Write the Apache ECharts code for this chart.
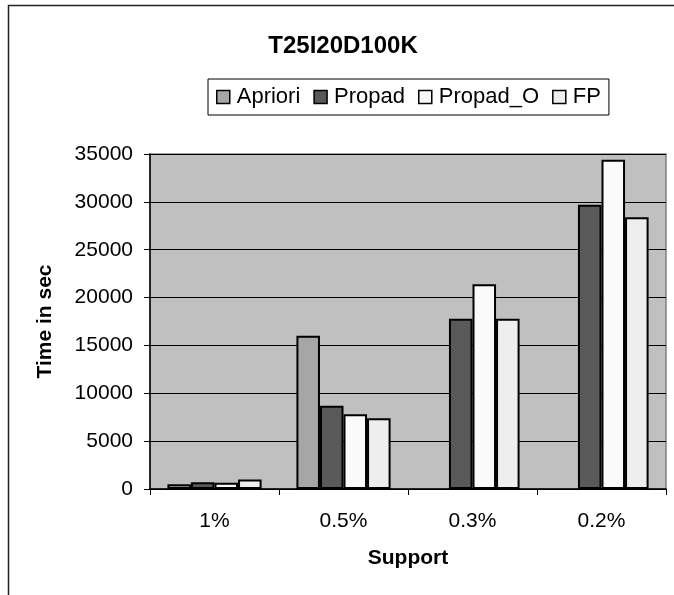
<!DOCTYPE html>
<html>
<head>
<meta charset="utf-8">
<script src="https://cdn.jsdelivr.net/npm/echarts@6/dist/echarts.min.js"></script>
<style>
  html, body { margin: 0; padding: 0; background: #fff; }
  #chart { width: 674px; height: 595px; }
</style>
</head>
<body>
<div id="chart"></div>
<script>
// Support thresholds on the x axis
const categories = ['1%', '0.5%', '0.3%', '0.2%'];

// Run time in seconds per algorithm (null = no bar)
const apriori  = [500, 16000, null, null];
const propad   = [700, 8700, 17800, 29700];
const propadO  = [650, 7800, 21400, 34400];
const fp       = [1000, 7400, 17800, 28400];

const seriesNames = ['Apriori', 'Propad', 'Propad_O', 'FP'];
const seriesData = [apriori, propad, propadO, fp];
const seriesColors = ['#a6a6a6', '#595959', '#fafafa', '#eeeeee'];

const font = '"Liberation Sans", Arial, sans-serif';

const chart = echarts.init(document.getElementById('chart'), null, { renderer: 'canvas' });

chart.setOption({
  animation: false,
  backgroundColor: '#ffffff',
  textStyle: { fontFamily: font },
  title: {
    text: 'T25I20D100K',
    left: 338,
    top: 29,
    textAlign: 'center',
    textStyle: { fontFamily: font, fontSize: 24, fontWeight: 'bold', color: '#000' }
  },
  legend: {
    data: seriesNames,
    left: 208,
    top: 79,
    padding: [7, 8, 7, 8],
    borderColor: '#000',
    borderWidth: 1,
    itemWidth: 13,
    itemHeight: 13,
    itemGap: 13,
    icon: 'rect',
    itemStyle: { borderColor: '#000', borderWidth: 1.5 },
    textStyle: { fontFamily: font, fontSize: 22, color: '#000', padding: [0, 0, 0, 2] }
  },
  grid: {
    left: 150,
    right: 8,
    top: 154,
    bottom: 106,
    show: true,
    backgroundColor: '#c0c0c0',
    borderColor: '#808080',
    borderWidth: 1.5
  },
  xAxis: {
    type: 'category',
    data: categories,
    name: 'Support',
    nameLocation: 'middle',
    nameGap: 59,
    nameTextStyle: { fontFamily: font, fontSize: 21, fontWeight: 'bold', color: '#000' },
    axisLine: { lineStyle: { color: '#000', width: 1.5 } },
    axisTick: { show: true, length: 6, lineStyle: { color: '#000' } },
    axisLabel: { fontFamily: font, fontSize: 21, color: '#000', margin: 22 },
    splitLine: { show: false }
  },
  yAxis: {
    type: 'value',
    min: 0,
    max: 35000,
    interval: 5000,
    name: 'Time in sec',
    nameLocation: 'middle',
    nameGap: 94,
    nameRotate: 90,
    nameTextStyle: { fontFamily: font, fontSize: 21, fontWeight: 'bold', color: '#000' },
    axisLine: { show: true, lineStyle: { color: '#000', width: 1.5 } },
    axisTick: { show: true, length: 6, lineStyle: { color: '#000' } },
    axisLabel: {
      fontFamily: font, fontSize: 21, color: '#000', margin: 17,
      formatter: (v) => String(v)
    },
    splitLine: { show: true, lineStyle: { color: '#000', width: 1 } }
  },
  graphic: [{
    type: 'polyline',
    shape: { points: [[8.5, 595], [8.5, 5.5], [674, 5.5]] },
    style: { stroke: '#222', lineWidth: 1.5, fill: null },
    silent: true
  }],
  series: seriesNames.map((name, i) => ({
    name: name,
    type: 'bar',
    data: seriesData[i],
    barGap: '0%',
    barCategoryGap: '27%',
    itemStyle: { color: seriesColors[i], borderColor: '#000', borderWidth: 2 }
  }))
});
</script>
</body>
</html>
